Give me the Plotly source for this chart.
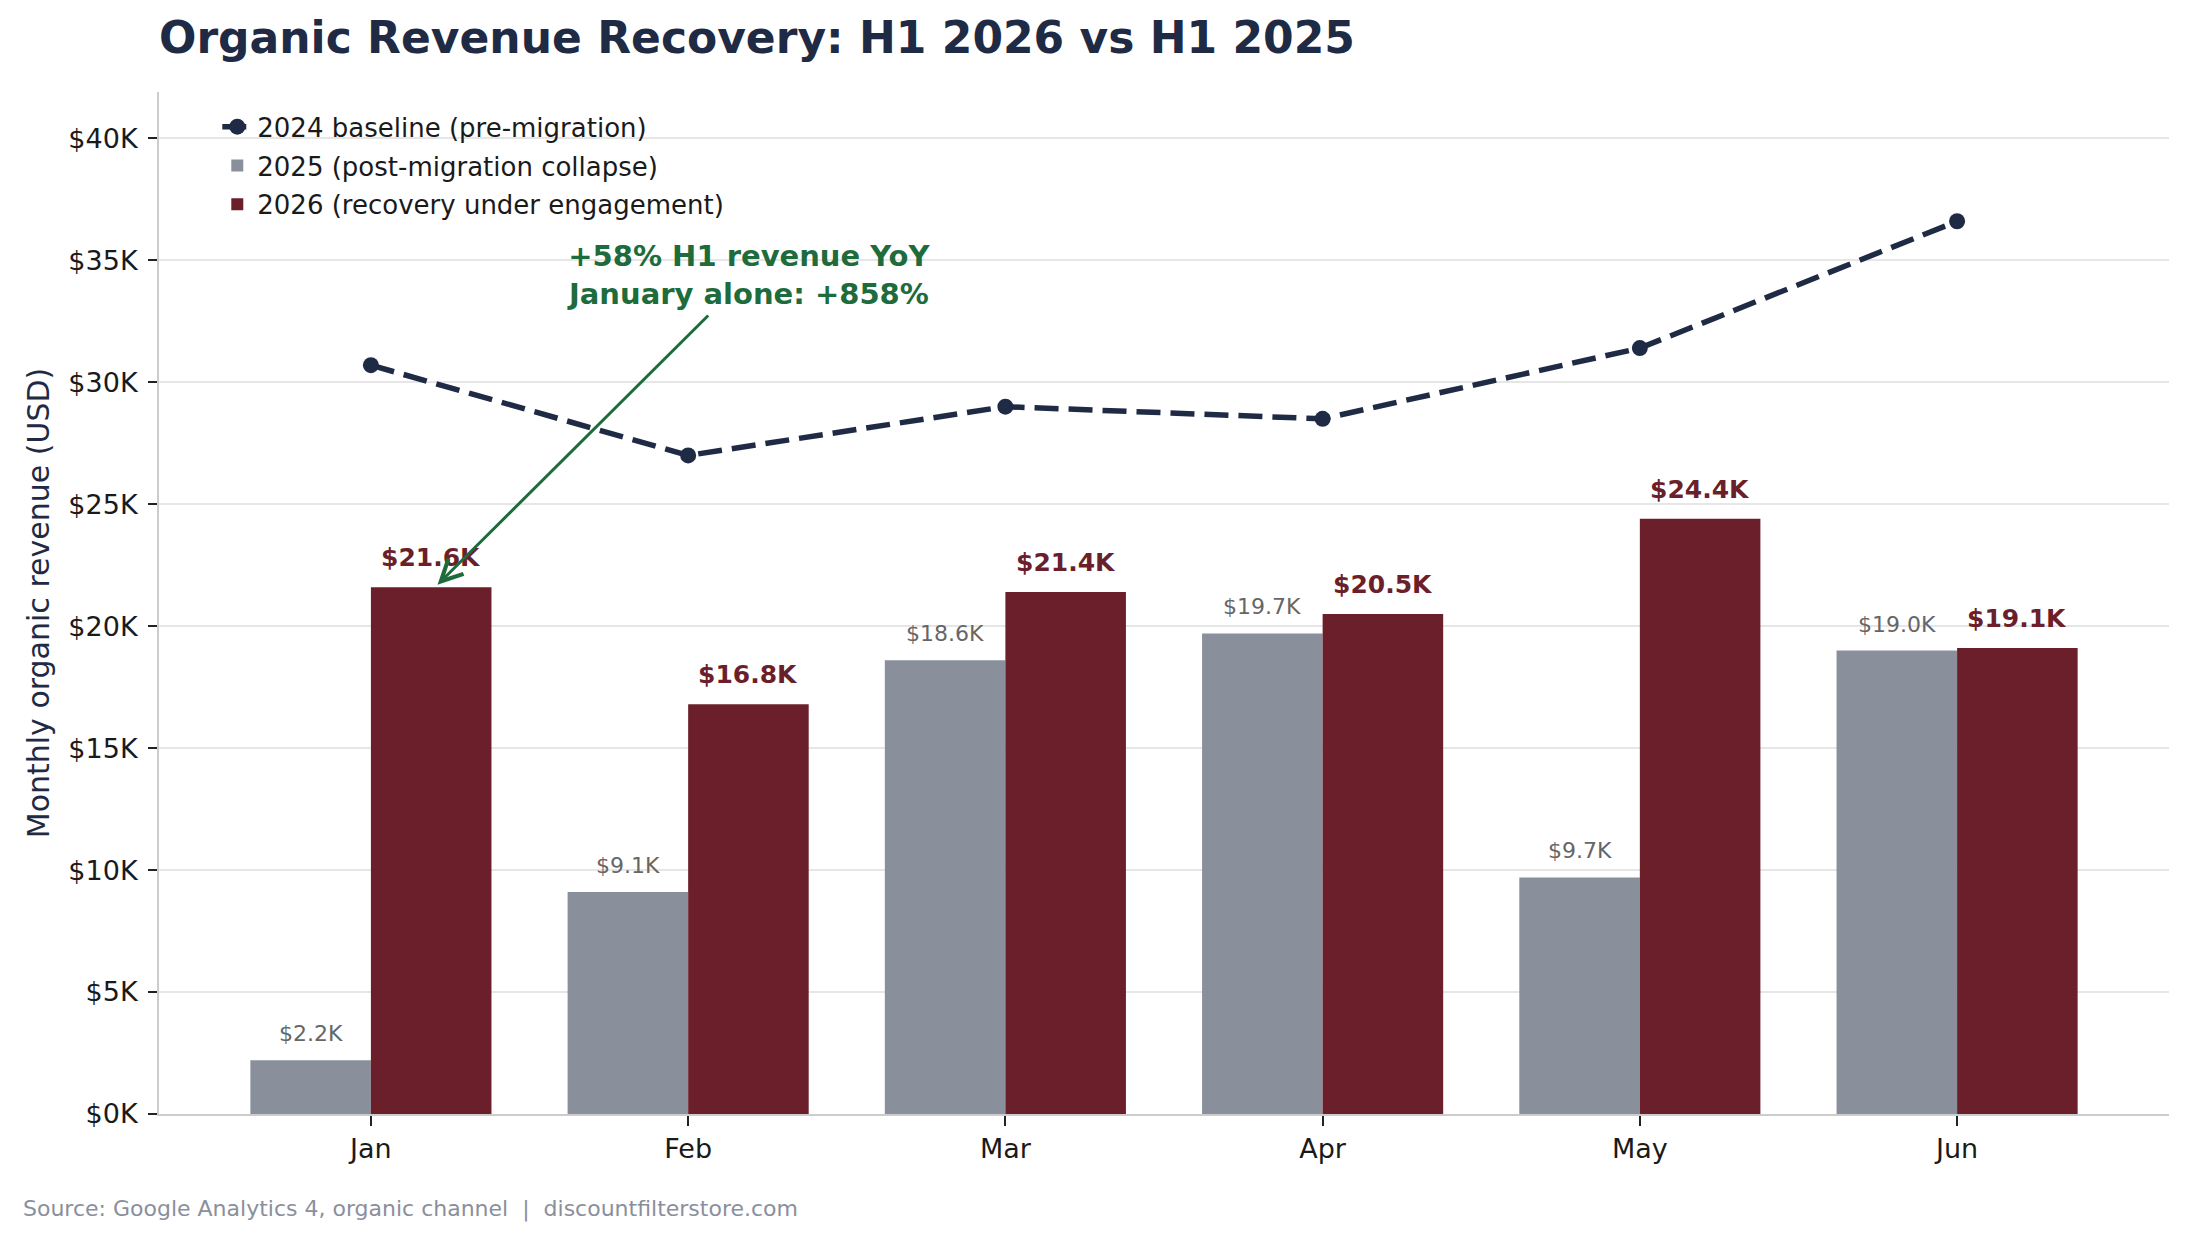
import plotly.graph_objects as go

# Données (USD / mois)
months = ["Jan", "Feb", "Mar", "Apr", "May", "Jun"]
rev_2024 = [30700, 27000, 29000, 28500, 31400, 36600]
rev_2025 = [2200, 9100, 18600, 19700, 9700, 19000]
rev_2026 = [21600, 16800, 21400, 20500, 24400, 19100]

y_ticks = [0, 5000, 10000, 15000, 20000, 25000, 30000, 35000, 40000]
y_tick_labels = ["$0K", "$5K", "$10K", "$15K", "$20K", "$25K", "$30K", "$35K", "$40K"]

series_names = ["2024 baseline (pre-migration)",
                "2025 (post-migration collapse)",
                "2026 (recovery under engagement)"]

callout_text = "+58% H1 revenue YoY<br>January alone: +858%"
source_text = "Source: Google Analytics 4, organic channel  |  discountfilterstore.com"

NAVY = "#1f2a44"
GRAY = "#8a909b"
WINE = "#6b1f2b"
GREEN = "#1e6b3c"
FONT = "DejaVu Sans"

fig = go.Figure()

fig.add_trace(go.Scatter(
    x=months, y=rev_2024, name=series_names[0], mode="lines+markers",
    line=dict(color=NAVY, width=5.5, dash="24px,10px"),
    marker=dict(color=NAVY, size=16),
    legendgroup="a",
))
fig.add_trace(go.Bar(
    x=months, y=rev_2025, name=series_names[1],
    marker=dict(color=GRAY, line=dict(width=0)),
    legendgroup="b",
))
fig.add_trace(go.Bar(
    x=months, y=rev_2026, name=series_names[2],
    marker=dict(color=WINE, line=dict(width=0)),
    legendgroup="c",
))

# étiquettes au-dessus des barres
annotations = []
for i, v in enumerate(rev_2025):
    annotations.append(dict(
        x=i - 0.19, y=v, xref="x", yref="y", text=f"${v/1000:.1f}K",
        showarrow=False, yanchor="bottom", yshift=12,
        font=dict(family=FONT, size=22, color="#666666"),
    ))
for i, v in enumerate(rev_2026):
    annotations.append(dict(
        x=i + 0.19, y=v, xref="x", yref="y", text=f"<b>${v/1000:.1f}K</b>",
        showarrow=False, yanchor="bottom", yshift=13,
        font=dict(family=FONT, size=25, color=WINE),
    ))

# flèche + texte
annotations.append(dict(
    x=0.21, y=21700, xref="x", yref="y",
    ax=1.068, ay=32800, axref="x", ayref="y",
    text="", showarrow=True, arrowhead=5, arrowsize=1.4, arrowwidth=3,
    arrowcolor=GREEN,
))
annotations.append(dict(
    x=1.192, y=34400, xref="x", yref="y", text=f"<b>{callout_text}</b>",
    showarrow=False, align="center",
    font=dict(family=FONT, size=29, color=GREEN),
))
annotations.append(dict(
    x=-0.0687, y=-0.0934, xref="paper", yref="paper", text=source_text,
    showarrow=False, xanchor="left", yanchor="middle",
    font=dict(family=FONT, size=22, color="#8a8f9c"),
))

# la page ajoute 8 px de marge au body
fig.update_layout(
    width=2188, height=1243,
    margin=dict(l=151, r=27, t=84, b=137),
    paper_bgcolor="white", plot_bgcolor="white",
    font=dict(family=FONT, color="#1a1a1a"),
    barmode="group", bargap=0.24, bargroupgap=0,
    title=dict(
        text="<b>Organic Revenue Recovery: H1 2026 vs H1 2025</b>",
        x=0, xref="paper", xanchor="left",
        y=1 - 30 / 1243, yref="container", yanchor="middle",
        font=dict(family=FONT, size=44, color=NAVY),
    ),
    legend=dict(
        x=0.029, y=0.989, xanchor="left", yanchor="top",
        bgcolor="rgba(0,0,0,0)", font=dict(family=FONT, size=26, color="#1a1a1a"),
        tracegroupgap=2,
    ),
    annotations=annotations,
)

fig.update_xaxes(
    type="category", range=[-0.668, 5.668],
    showline=True, linecolor="#cccccc", linewidth=2,
    ticks="outside", ticklen=10, tickwidth=2, tickcolor="#222222",
    tickfont=dict(family=FONT, size=27, color="#1a1a1a"),
    showgrid=False, zeroline=False,
)
fig.update_yaxes(
    range=[0, 41900], tickvals=y_ticks, ticktext=y_tick_labels,
    showline=True, linecolor="#cccccc", linewidth=2,
    ticks="outside", ticklen=9, tickwidth=2, tickcolor="#222222",
    tickfont=dict(family=FONT, size=27, color="#1a1a1a"), ticklabelstandoff=5,
    showgrid=True, gridcolor="#e6e6e6", gridwidth=2, zeroline=False,
    title=dict(text="Monthly organic revenue (USD)", standoff=10,
               font=dict(family=FONT, size=30, color=NAVY)),
)

fig.write_html("out.html")
